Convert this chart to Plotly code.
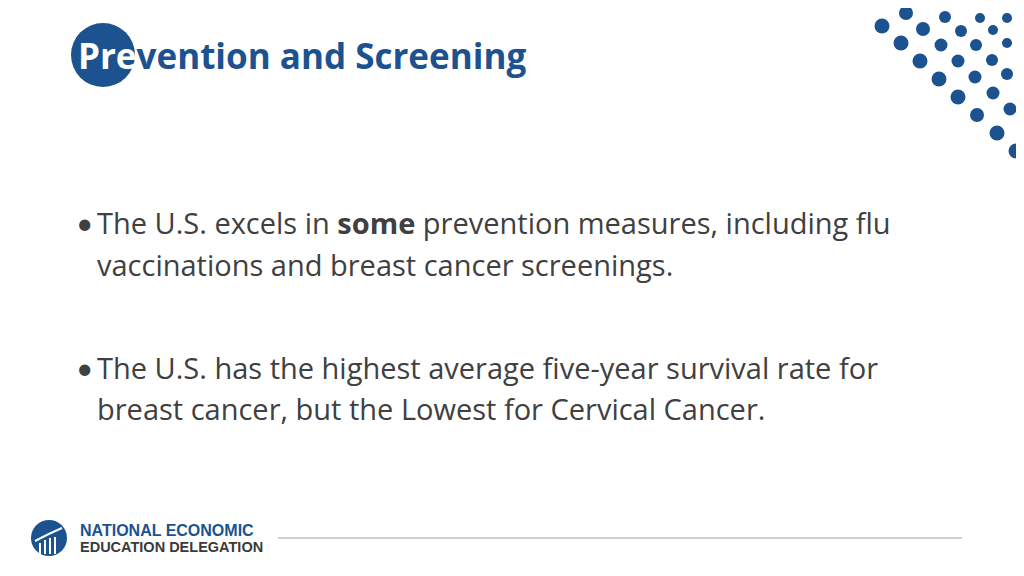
import plotly.graph_objects as go

BLUE = "#1b528f"
TEXT = "#404040"

dot_x = [862, 906, 945, 980, 1007, 882, 923, 961, 993, 901, 941, 976, 1007, 920, 958, 992, 939, 975, 1007, 958, 993, 977, 1010, 997, 1016]
dot_y = [7, 13, 17, 18, 18, 26, 29, 31, 30, 43, 45, 45, 43, 61, 61, 60, 79, 77, 74, 97, 93, 115, 109, 133, 151]
dot_s = [15, 14, 12, 10, 10, 15, 14, 12, 10, 15, 13, 12, 10, 15, 13, 12, 15, 13, 12, 15, 13, 14, 13, 15, 15]

title = "Prevention and Screening"
bullet_lines = [
    ("The U.S. excels in <b>some</b> prevention measures, including flu", 222, True),
    ("vaccinations and breast cancer screenings.", 264, False),
    ("The U.S. has the highest average five-year survival rate for", 367, True),
    ("breast cancer, but the Lowest for Cervical Cancer.", 408, False),
]
logo_lines = ["NATIONAL ECONOMIC", "EDUCATION DELEGATION"]

fig = go.Figure()
fig.add_trace(go.Scatter(x=dot_x, y=dot_y, mode="markers",
                         marker=dict(size=dot_s, color=BLUE, opacity=1, line=dict(width=0)),
                         hoverinfo="skip", showlegend=False, cliponaxis=False))

shapes = [
    dict(type="circle", xref="x", yref="y", x0=71, x1=135, y0=23, y1=87,
         fillcolor=BLUE, line=dict(width=0), layer="below"),
    dict(type="circle", xref="x", yref="y", x0=31, x1=67, y0=520, y1=556,
         fillcolor=BLUE, line=dict(width=0)),
    dict(type="line", xref="x", yref="y", x0=278, x1=962, y0=538, y1=538,
         line=dict(color="#9aa3ad", width=1)),
]
# logo bars
for bx, top in [(40, 543), (45, 540), (50, 538), (55, 537)]:
    shapes.append(dict(type="line", xref="x", yref="y", x0=bx, x1=bx, y0=top, y1=554,
                       line=dict(color="white", width=2)))
shapes.append(dict(type="path", xref="x", yref="y",
                   path="M 35,541 Q 48,534 62,528", line=dict(color="white", width=2)))

ann = [dict(x=76, y=55, xref="x", yref="y", xanchor="left", yanchor="middle",
            showarrow=False,
            text="<b><span style='color:white'>" + title[:3] + "</span>" + title[3:] + "</b>",
            font=dict(family="Open Sans", size=35, color=BLUE))]
for txt, y, bullet in bullet_lines:
    ann.append(dict(x=95, y=y, xref="x", yref="y", xanchor="left", yanchor="middle",
                    showarrow=False, text=txt, font=dict(family="Open Sans", size=29, color=TEXT)))
    if bullet:
        ann.append(dict(x=74, y=y, xref="x", yref="y", xanchor="left", yanchor="middle",
                        showarrow=False, text="•", font=dict(family="Lato", size=30, color=TEXT)))
ann.append(dict(x=78, y=530, xref="x", yref="y", xanchor="left", yanchor="middle", showarrow=False,
                text="<b>" + logo_lines[0] + "</b>",
                font=dict(family="Liberation Sans", size=16, color=BLUE)))
ann.append(dict(x=78, y=547, xref="x", yref="y", xanchor="left", yanchor="middle", showarrow=False,
                text="<b>" + logo_lines[1] + "</b>",
                font=dict(family="Liberation Sans", size=14.5, color="#3a3a3a")))

fig.update_layout(
    width=1008, height=560, margin=dict(l=0, r=0, t=0, b=0),
    paper_bgcolor="white", plot_bgcolor="white",
    xaxis=dict(range=[8, 1016], visible=False, fixedrange=True),
    yaxis=dict(range=[568, 8], visible=False, fixedrange=True),
    shapes=shapes, annotations=ann,
)
fig.write_html("out.html", config={"displayModeBar": False})
